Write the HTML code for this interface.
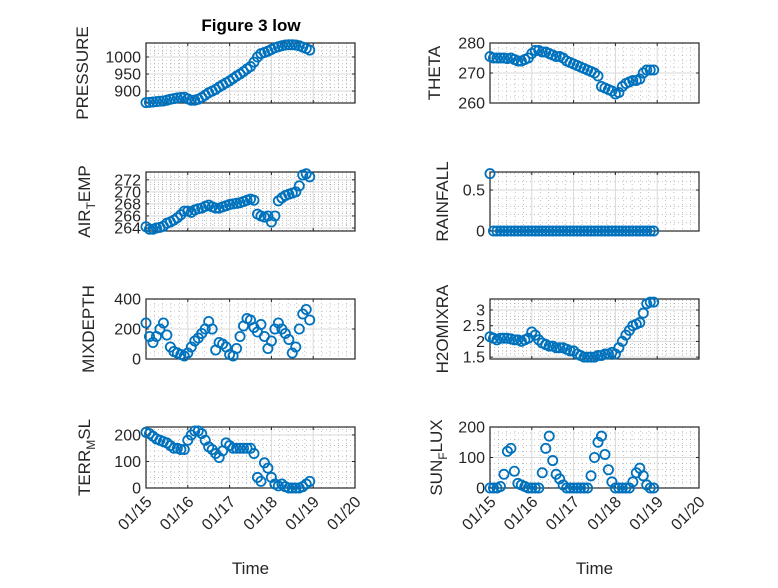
<!DOCTYPE html>
<html><head><meta charset="utf-8"><style>
body{margin:0;background:#fff;width:778px;height:583px;overflow:hidden}
svg{font-family:"Liberation Sans",sans-serif}
</style></head><body>
<svg id="fig" width="778" height="583" viewBox="0 0 778 583" xmlns="http://www.w3.org/2000/svg">
<rect width="778" height="583" fill="#fff"/>
<text x="251" y="31" text-anchor="middle" font-size="17" font-weight="bold" fill="#000">Figure 3 low</text>
</svg>
<script>
const hours=[0,2,4,6,8,10,12,14,16,18,20,22,24,26,28,30,32,34,36,38,40,42,44,46,48,50,52,54,56,58,60,62,64,66,68,70,72,74,76,78,80,82,84,86,88,90,92,94];
const xTickLabels=["01/15","01/16","01/17","01/18","01/19","01/20"];
const pressure=[866,867,868,869,870,871,873,876,878,880,881,882,877,873,873,876,881,888,895,900,905,912,918,924,930,937,944,950,957,965,972,985,1000,1010,1013,1017,1022,1027,1030,1033,1035,1036,1036,1035,1033,1029,1025,1020];
const theta=[275.5,275,275,275,275,274.8,275,274.5,274,274,274.5,275,276.5,277.5,277.5,277,277,276.5,276,275.5,275.5,275,274,273.5,273,272.5,272,271.5,271,270.5,270,269,265.5,265,264.5,264,263,263.5,265.5,266.5,267,267.5,267.5,268,270,271,271,271];
const airTemp=[264.2,263.8,263.8,264,264.1,264.3,264.8,265,265.3,265.7,266.2,266.8,266.8,266.6,267,267.2,267.3,267.6,267.8,267.5,267.3,267.3,267.5,267.7,267.9,268,268.1,268.2,268.4,268.6,268.8,268.6,266.3,266,265.8,266,265,266,268.5,269,269.4,269.6,269.8,270,271,272.8,273,272.5];
const rainfall=[0.7,0,0,0,0,0,0,0,0,0,0,0,0,0,0,0,0,0,0,0,0,0,0,0,0,0,0,0,0,0,0,0,0,0,0,0,0,0,0,0,0,0,0,0,0,0,0,0];
const mixDepth=[240,150,110,150,200,240,160,80,50,40,30,20,40,80,120,140,170,200,250,200,60,110,100,80,30,20,70,150,220,270,260,210,180,230,150,70,120,200,240,200,170,130,40,80,200,300,330,260];
const h2oMix=[2.15,2.1,2.05,2.1,2.1,2.1,2.08,2.05,2.05,2.0,2.05,2.1,2.3,2.2,2.05,1.95,1.9,1.85,1.85,1.8,1.8,1.8,1.75,1.7,1.7,1.6,1.55,1.5,1.5,1.5,1.5,1.55,1.55,1.6,1.6,1.65,1.6,1.8,2.0,2.2,2.35,2.5,2.55,2.6,2.9,3.2,3.25,3.25];
const terrMsl=[210,205,195,185,180,175,170,160,150,150,145,145,180,200,215,215,205,180,155,145,130,115,140,170,160,150,150,150,150,150,150,130,40,25,95,75,40,15,8,15,5,0,0,0,0,5,15,25];
const sunFlux=[0,0,0,5,45,120,130,55,15,10,5,0,0,0,0,50,130,170,90,45,30,10,0,0,0,0,0,0,0,40,100,150,170,110,60,20,0,0,0,0,0,20,50,65,40,10,0,0];
const pressureTicks=[900,950,1000],thetaTicks=[260,270,280],airTicks=[264,266,268,270,272],rainTicks=[0,0.5],mixTicks=[0,200,400],h2oTicks=[1.5,2,2.5,3],terrTicks=[0,100,200],sunTicks=[0,100,200];

const NS="http://www.w3.org/2000/svg",svg=document.getElementById('fig');
function mk(tag,at,parent){const e=document.createElementNS(NS,tag);for(const k in at)e.setAttribute(k,at[k]);(parent||svg).appendChild(e);return e;}
const colL=[146,355],colR=[490,699];
const rows=[[43,103],[172,231],[299,359],[427,488]];
const panels=[
 {id:'pressure',label:['PRESSURE'],col:colL,row:0,data:pressure,ylim:[865,1041],ticks:pressureTicks,lx:82},
 {id:'theta',label:['THETA'],col:colR,row:0,data:theta,ylim:[260,280],ticks:thetaTicks,lx:434},
 {id:'air-temp',label:['AIR','T','EMP'],col:colL,row:1,data:airTemp,ylim:[263.5,273.3],ticks:airTicks,lx:84},
 {id:'rainfall',label:['RAINFALL'],col:colR,row:1,data:rainfall,ylim:[0,0.72],ticks:rainTicks,lx:442},
 {id:'mixdepth',label:['MIXDEPTH'],col:colL,row:2,data:mixDepth,ylim:[0,400],ticks:mixTicks,lx:88},
 {id:'h2omixra',label:['H2OMIXRA'],col:colR,row:2,data:h2oMix,ylim:[1.44,3.35],ticks:h2oTicks,lx:442},
 {id:'terr-msl',label:['TERR','M','SL'],col:colL,row:3,data:terrMsl,ylim:[0,230],ticks:terrTicks,lx:84},
 {id:'sun-flux',label:['SUN','F','LUX'],col:colR,row:3,data:sunFlux,ylim:[0,200],ticks:sunTicks,lx:436}
];
panels.forEach(p=>{
 const [x0,x1]=p.col,[y0,y1]=rows[p.row];
 const g=mk('g',{});
 
 
 const xs=h=>x0+(h/120)*(x1-x0);
 const ys=v=>y1-(v-p.ylim[0])/(p.ylim[1]-p.ylim[0])*(y1-y0);
 for(let d=0;d<5;d++)for(let m=1;m<5;m++){const x=xs(d*24+m*4.8);mk('line',{x1:x,x2:x,y1:y0,y2:y1,stroke:'#999','stroke-width':0.6,'stroke-dasharray':'1 3'},g);}
 const step=p.ticks.length>1?p.ticks[1]-p.ticks[0]:1;
 for(let v=p.ticks[0]-step;v<=p.ylim[1];v+=step/5){if(v>p.ylim[0]&&v<p.ylim[1]){const y=ys(v);mk('line',{x1:x0,x2:x1,y1:y,y2:y,stroke:'#999','stroke-width':0.6,'stroke-dasharray':'1 3'},g);}}
 for(let d=1;d<5;d++){const x=xs(d*24);mk('line',{x1:x,x2:x,y1:y0,y2:y1,stroke:'#d9d9d9','stroke-width':1},g);}
 p.ticks.forEach(v=>{const y=ys(v);mk('line',{x1:x0,x2:x1,y1:y,y2:y,stroke:'#d9d9d9','stroke-width':1},g);});
 for(let d=0;d<=5;d++){const x=xs(d*24);mk('line',{x1:x,x2:x,y1:y1,y2:y1-3,stroke:'#262626'},g);mk('line',{x1:x,x2:x,y1:y0,y2:y0+3,stroke:'#262626'},g);}
 p.ticks.forEach(v=>{const y=ys(v);mk('line',{x1:x0,x2:x0+3,y1:y,y2:y,stroke:'#262626'},g);mk('line',{x1:x1,x2:x1-3,y1:y,y2:y,stroke:'#262626'},g);
  const t=mk('text',{x:x0-5,y:y+5.5,'text-anchor':'end','font-size':16,fill:'#262626'},g);t.textContent=String(v);
  
  });
 mk('rect',{x:x0,y:y0,width:x1-x0,height:y1-y0,fill:'none',stroke:'#262626','stroke-width':1.2},g);
 p.data.forEach((v,i)=>{const c=mk('circle',{cx:xs(hours[i]),cy:ys(v),r:4.6,fill:'none',stroke:'#0072bd','stroke-width':1.8},g);
  
  });
 const cy=(y0+y1)/2;
 const t=mk('text',{x:p.lx,y:cy,'text-anchor':'middle','font-size':17,fill:'#262626',transform:`rotate(-90 ${p.lx} ${cy})`,dy:6},g);
 
 
 if(p.label.length===1)t.textContent=p.label[0];
 else{mk('tspan',{},t).textContent=p.label[0];mk('tspan',{dy:5,'font-size':12},t).textContent=p.label[1];mk('tspan',{dy:-5},t).textContent=p.label[2];}
 if(p.row===3){
  xTickLabels.forEach((s,d)=>{const x=xs(d*24),y=y1+12;
   const tl=mk('text',{x:x+4,y:y+4,'text-anchor':'end','font-size':16,fill:'#262626',transform:`rotate(-45 ${x+4} ${y})`},g);tl.textContent=s;
   
   });
  const xt=mk('text',{x:(x0+x1)/2,y:574,'text-anchor':'middle','font-size':17,fill:'#262626'},g);xt.textContent='Time';
  
  
 }
});
</script>
</body></html>
